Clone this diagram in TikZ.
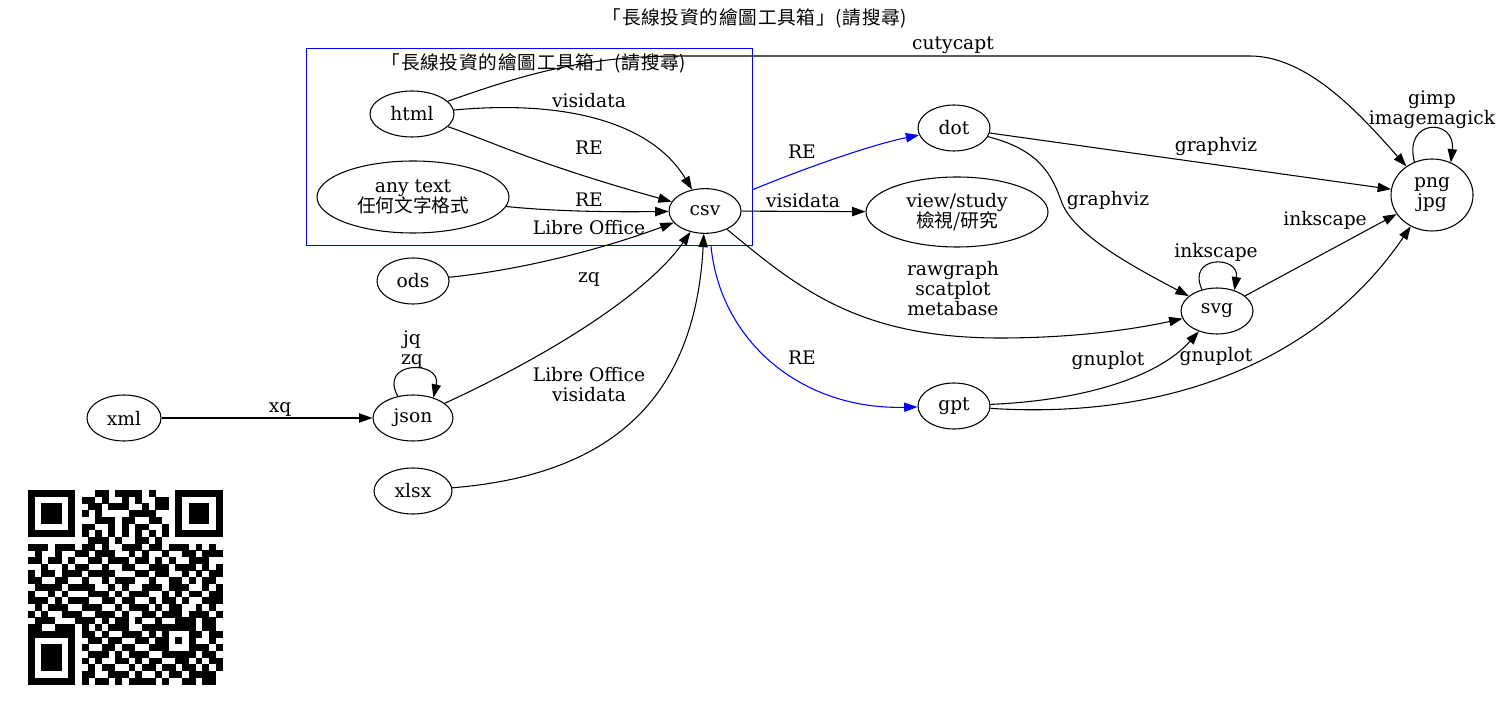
\documentclass[tikz,border=0pt]{standalone}
\usepackage{fontspec}
\setmainfont{DejaVu Serif}
\newfontfamily\cjk{Noto Sans CJK TC}
\newfontfamily\cjkt[LetterSpace=4]{Noto Sans CJK TC}
\usetikzlibrary{arrows.meta,shapes.geometric}
\newcount\qrcol
\newcount\qrrowc
\def\qrscan#1{\ifx#1\relax\else\ifx#1.\else\if1#1\fill[black] ({28+6.7*\the\qrcol},{490+6.7*\the\qrrowc}) rectangle +(6.95,6.95);\fi\advance\qrcol by 1 \fi\expandafter\qrscan\fi}
\def\qrline#1{\qrcol=0 \qrscan#1\relax\advance\qrrowc by 1\relax}
\def\gvfont{\fontsize{14pt}{15pt}\selectfont}
\tikzset{
  gnode/.style={draw, ellipse, line width=0.8pt, inner sep=0pt, font=\gvfont, align=center},
  elab/.style={font=\gvfont, align=center, inner sep=0pt},
  arr/.style={-{Triangle[length=10pt,width=7pt]}, line width=0.8pt},
  bluearr/.style={arr, draw=blue, -{Triangle[length=10pt,width=7pt,fill=blue]}},
}
\begin{document}
\begin{tikzpicture}[x=0.75pt,y=-0.75pt]
\useasboundingbox (0,0) rectangle (1501,712);
% QR code
\qrrowc=0\relax
\qrline{1111111.0.0011011110100.0.1111111}
\qrline{1000001.0.1101001010011.0.1000001}
\qrline{1011101.0.0110111001011.0.1011101}
\qrline{1011101.0.1010000111100.0.1011101}
\qrline{1011101.0.0011101100110.0.1011101}
\qrline{1000001.0.1100101011001.0.1000001}
\qrline{1111111.0.1010101010101.0.1111111}
\qrline{0000000.0.0111010011010.0.0000000}
\qrline{111011.1.0110100111011011101010}
\qrline{010010.0.1101110010100100110111}
\qrline{110110.1.0011011101101010011100}
\qrline{001001.0.1100100110011101110101}
\qrline{101101.1.1011110001101100101011}
\qrline{110011.0.0100101110010011010110}
\qrline{011110.1.1110010100111011100101}
\qrline{100101.0.0011101011100101011011}
\qrline{111010.1.1100110110010110100111}
\qrline{010111.0.0111001011101011001010}
\qrline{101001.1.1001110100110111011101}
\qrline{011100.0.1110101101001001110110}
\qrline{110011.1.0101011100111.11111.0110}
\qrline{1111111.0.110100111010.10001.1011}
\qrline{1000001.0.011011001101.10101.0010}
\qrline{1011101.0.100110110011.10001.1101}
\qrline{1011101.0.011101011100.11111.0110}
\qrline{1011101.0.101001101011.00110.1011}
\qrline{1011101.0.010110010110.11011.0101}
\qrline{1000001.0.110011101001.01101.1110}
\qrline{1111111.0.101101011110.10011.0110}
% title and cluster
\node[elab] (title) at (755,18) {\cjkt 「長線投資的繪圖工具箱」(請搜尋)};
\node[draw=blue, line width=0.75pt, minimum width=334.5pt, minimum height=147.75pt, inner sep=0pt] (cl) at (529,147.5) {};
\node[elab] (cllab) at (534,63) {\cjkt 「長線投資的繪圖工具箱」(請搜尋)};
% nodes
\node[gnode, minimum width=63pt, minimum height=34.5pt] (html) at (412,114) {html};
\node[gnode, minimum width=144pt, minimum height=54pt] (anytext) at (413,197) {any text\\{\cjk 任何文字格式}};
\node[gnode, minimum width=54pt, minimum height=33.5pt] (csv) at (705,211) {csv};
\node[gnode, minimum width=54pt, minimum height=34.5pt] (ods) at (413,281) {ods};
\node[gnode, minimum width=55.5pt, minimum height=34.5pt] (xml) at (124,418) {xml};
\node[gnode, minimum width=60pt, minimum height=34.5pt] (json) at (413,418) {json};
\node[gnode, minimum width=58.5pt, minimum height=34.5pt] (xlsx) at (413,491) {xlsx};
\node[gnode, minimum width=54pt, minimum height=34.5pt] (dot) at (954,128) {dot};
\node[gnode, minimum width=136.5pt, minimum height=52.5pt] (view) at (957,212) {view/study\\{\cjk 檢視/研究}};
\node[gnode, minimum width=54pt, minimum height=34.5pt] (svg) at (1217,311) {svg};
\node[gnode, minimum width=54pt, minimum height=34.5pt] (gpt) at (954,406) {gpt};
\node[gnode, minimum width=61.5pt, minimum height=54pt] (png) at (1432,195) {png\\jpg};
\coordinate (bs1) at (752,190);
\coordinate (bs2) at (711,246);
% edges
\draw[arr] (html) .. controls (530,72) and (590,56) .. (680,56) -- (1250,56) .. controls (1310,56) and (1365,120) .. (png);
\draw[arr] (html) .. controls (560,100) and (650,120) .. (csv);
\draw[arr] (html) .. controls (500,145) and (540,165) .. (csv);
\draw[arr] (anytext) .. controls (560,212) and (620,212) .. (csv);
\draw[arr] (ods) .. controls (520,270) and (600,250) .. (csv);
\draw[arr] (json) .. controls (560,350) and (650,290) .. (csv);
\draw[arr] (xlsx) .. controls (610,475) and (695,400) .. (csv);
\draw[arr] (xml) -- (json);
\draw[arr] (json.125) .. controls (378,360) and (442,360) .. (json.45);
\draw[bluearr] (bs1) .. controls (800,170) and (870,145) .. (dot);
\draw[arr] (csv) -- (view);
\draw[arr] (csv) .. controls (800,290) and (860,338) .. (1000,338) .. controls (1080,338) and (1140,328) .. (svg);
\draw[bluearr] (bs2) .. controls (720,340) and (800,410) .. (gpt);
\draw[arr] (dot) -- (png);
\draw[arr] (dot) .. controls (1040,150) and (1052,175) .. (1062,203) .. controls (1075,235) and (1130,265) .. (svg);
\draw[arr] (svg.125) .. controls (1186,255) and (1240,255) .. (svg.50);
\draw[arr] (svg) -- (png);
\draw[arr] (gpt) .. controls (1090,400) and (1160,375) .. (svg);
\draw[arr] (gpt) .. controls (1170,420) and (1320,360) .. (png);
\draw[arr] (png.118) .. controls (1403,118) and (1456,118) .. (png.60);
% edge labels
\node[elab] (lcut) at (953,45) {cutycapt};
\node[elab] (lvis1) at (589,101) {visidata};
\node[elab] (lre1) at (589,148) {RE};
\node[elab] (lre2) at (589,200) {RE};
\node[elab] (llo1) at (589,228) {Libre Office};
\node[elab] (lzq) at (589,279) {zq};
\node[elab] (ljq) at (412,350) {jq\\zq};
\node[elab] (lxq) at (280,409) {xq};
\node[elab] (llo2) at (589,385) {Libre Office\\visidata};
\node[elab] (lre3) at (802,152) {RE};
\node[elab] (lvis2) at (803,201) {visidata};
\node[elab] (lraw) at (953,289) {rawgraph\\scatplot\\metabase};
\node[elab] (lre4) at (802,358) {RE};
\node[elab] (lgv1) at (1216,146) {graphviz};
\node[elab] (lgv2) at (1108,200) {graphviz};
\node[elab] (link1) at (1216,252) {inkscape};
\node[elab] (link2) at (1325,220) {inkscape};
\node[elab] (lgnu1) at (1108,360) {gnuplot};
\node[elab] (lgnu2) at (1216,356) {gnuplot};
\node[elab] (lgimp) at (1432,110) {gimp\\imagemagick};
\end{tikzpicture}
\end{document}
